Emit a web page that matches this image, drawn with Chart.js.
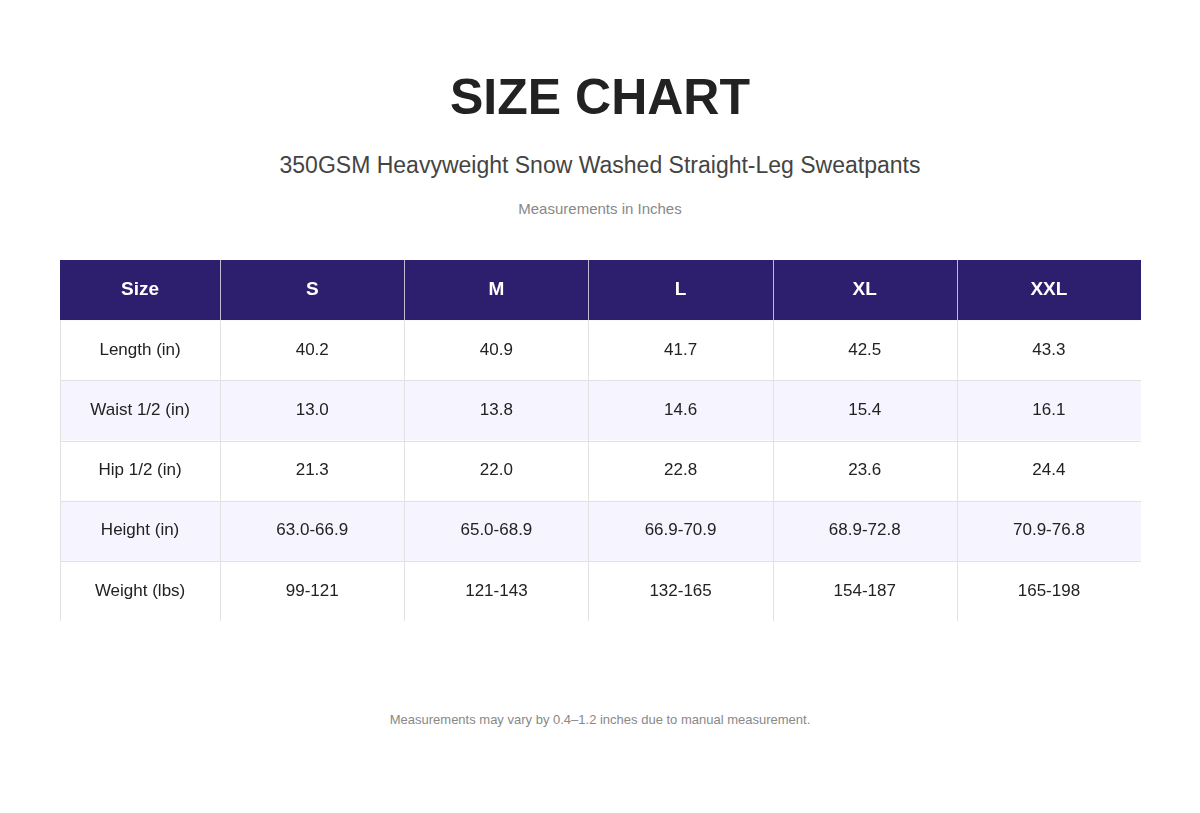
<!DOCTYPE html>
<html><head><meta charset="utf-8">
<script src="https://cdn.jsdelivr.net/npm/chart.js@4"></script>
<style>
body{margin:0;width:1200px;height:813px;background:#fff;font-family:"Liberation Sans",Arial,sans-serif;position:relative;overflow:hidden}
.t{position:absolute;left:0;width:1200px;text-align:center}
#wrap{position:absolute;left:60px;top:260px;width:1081px;height:361px}
</style></head><body>
<div class="t" style="top:68px;font-size:50px;font-weight:bold;color:#222">SIZE CHART</div>
<div class="t" style="top:152px;font-size:23px;color:#444">350GSM Heavyweight Snow Washed Straight-Leg Sweatpants</div>
<div class="t" style="top:200px;font-size:15px;color:#888">Measurements in Inches</div>
<div id="wrap"><canvas id="c"></canvas></div>
<div class="t" style="top:712px;font-size:13px;color:#888">Measurements may vary by 0.4–1.2 inches due to manual measurement.</div>
<script>
const headerLabel = "Size";
const sizes = ["S","M","L","XL","XXL"];
const rowLabels = ["Length (in)","Waist 1/2 (in)","Hip 1/2 (in)","Height (in)","Weight (lbs)"];
const lengthVals = ["40.2","40.9","41.7","42.5","43.3"];
const waistVals = ["13.0","13.8","14.6","15.4","16.1"];
const hipVals = ["21.3","22.0","22.8","23.6","24.4"];
const heightVals = ["63.0-66.9","65.0-68.9","66.9-70.9","68.9-72.8","70.9-76.8"];
const weightVals = ["99-121","121-143","132-165","154-187","165-198"];
const rows = [lengthVals, waistVals, hipVals, heightVals, weightVals];
const cols = [headerLabel, ...sizes];
const yLabels = [headerLabel, ...rowLabels];

const tablePlugin = {
  id:'table',
  afterDraw(chart){
    const ctx = chart.ctx, a = chart.chartArea;
    const W = a.right - a.left;
    const firstW = W*160/1080, otherW = (W-firstW)/sizes.length;
    const edges = [a.left];
    for(let i=0;i<cols.length;i++) edges.push(edges[i] + (i===0?firstW:otherW));
    const ys = chart.scales.y;
    const rh = (a.bottom - a.top)/yLabels.length;
    ctx.save();
    yLabels.forEach((lab, r)=>{
      const cy = ys.getPixelForValue(r);
      const top = cy - rh/2;
      ctx.fillStyle = r===0 ? '#2e1f6e' : (r%2===0 ? '#f6f4fe' : '#ffffff');
      ctx.fillRect(a.left, top, W, rh);
      for(let c=0;c<cols.length;c++){
        const txt = r===0 ? cols[c] : (c===0 ? lab : rows[r-1][c-1]);
        ctx.font = r===0 ? 'bold 19px "Liberation Sans", Arial' : '17px "Liberation Sans", Arial';
        ctx.fillStyle = r===0 ? '#fff' : '#222';
        ctx.textAlign='center'; ctx.textBaseline='middle';
        ctx.fillText(txt, (edges[c]+edges[c+1])/2, cy);
      }
    });
    ctx.strokeStyle='#e2e2e2'; ctx.lineWidth=1;
    for(let r=0;r<=yLabels.length;r++){
      const y = Math.round(a.top + r*rh)+0.5;
      if(r>1){ctx.beginPath();ctx.moveTo(a.left,y);ctx.lineTo(a.right,y);ctx.stroke();}
    }
    edges.forEach((x,i)=>{
      const xx = Math.round(x)+0.5;
      ctx.strokeStyle = '#e2e2e2';
      ctx.beginPath();ctx.moveTo(xx,a.top+rh);ctx.lineTo(xx,a.bottom);ctx.stroke();
      if(i>0 && i<edges.length-1){ctx.strokeStyle='rgba(255,255,255,0.7)';ctx.beginPath();ctx.moveTo(xx,a.top);ctx.lineTo(xx,a.top+rh);ctx.stroke();}
    });
    ctx.restore();
  }
};
new Chart(document.getElementById('c'),{
  type:'bar',
  data:{labels:yLabels,datasets:[{data:[]}]},
  options:{indexAxis:'y',responsive:true,maintainAspectRatio:false,animation:false,
    layout:{padding:0},
    plugins:{legend:{display:false},tooltip:{enabled:false}},
    scales:{y:{type:'category',display:false,offset:true},x:{display:false,min:0,max:1}}},
  plugins:[tablePlugin]
});
</script></body></html>
